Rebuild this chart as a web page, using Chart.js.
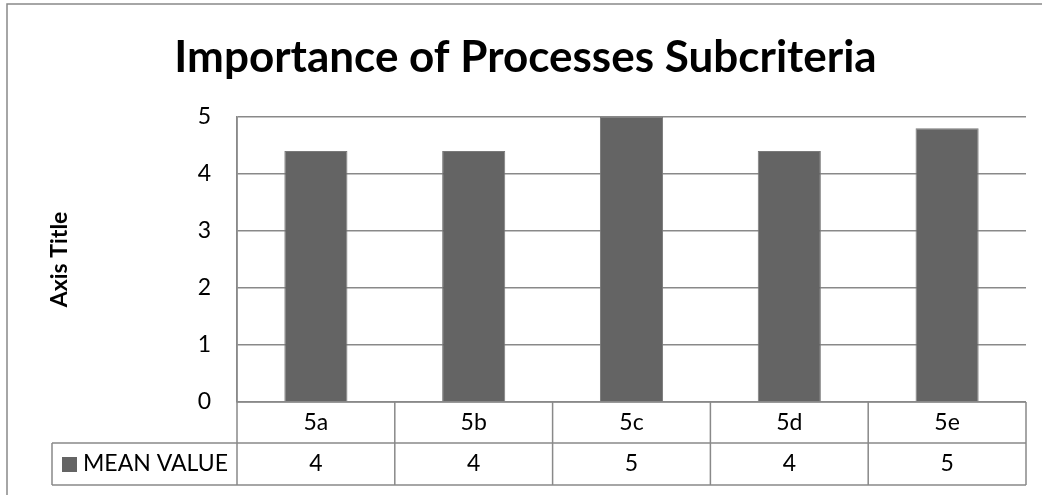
<!DOCTYPE html>
<html>
<head>
<meta charset="utf-8">
<script src="https://cdn.jsdelivr.net/npm/chart.js@4.4.1/dist/chart.umd.min.js"></script>
<style>
  html, body { margin: 0; padding: 0; background: #fff; }
</style>
</head>
<body>
<canvas id="chart" width="1042" height="495"></canvas>
<script>
// data
const categories = ['5a', '5b', '5c', '5d', '5e'];
const meanValues = [4.4, 4.4, 5, 4.4, 4.8];
const seriesName = 'MEAN VALUE';
const chartTitle = 'Importance of Processes Subcriteria';
const yAxisTitle = 'Axis Title';
const yMin = 0;
const yMax = 5;
const yStep = 1;

const BAR = '#646464';
const LINE = '#898989';
const FONT = 'Lato';
const LABEL_SIZE = 23;

// Excel-like frame + data table under the plot
const dataTable = {
  id: 'dataTable',
  beforeDraw(chart) {
    const ctx = chart.ctx;
    ctx.save();
    ctx.fillStyle = '#fff';
    ctx.fillRect(0, 0, chart.width, chart.height);
    ctx.strokeStyle = LINE;
    ctx.lineWidth = 1.5;
    ctx.strokeRect(7, 4, chart.width + 20, chart.height + 20);
    ctx.restore();
  },
  afterDraw(chart) {
    const { ctx, chartArea } = chart;
    const x = chart.scales.x;
    const step = x.width / categories.length;
    const row1 = chartArea.bottom;
    const row2 = row1 + 41;
    const row3 = row2 + 42;
    const legendLeft = 52;

    ctx.save();
    ctx.strokeStyle = LINE;
    ctx.lineWidth = 1.5;
    ctx.beginPath();
    ctx.moveTo(x.left, row1); ctx.lineTo(x.right, row1);
    ctx.moveTo(legendLeft, row2); ctx.lineTo(x.right, row2);
    ctx.moveTo(legendLeft, row3); ctx.lineTo(x.right, row3);
    ctx.moveTo(legendLeft, row2); ctx.lineTo(legendLeft, row3);
    ctx.moveTo(x.left, chartArea.top); ctx.lineTo(x.left, row3);
    for (let i = 1; i <= categories.length; i++) {
      const bx = x.left + i * step;
      ctx.moveTo(bx, row1); ctx.lineTo(bx, row3);
    }
    ctx.stroke();

    // values row
    ctx.fillStyle = '#000';
    ctx.font = LABEL_SIZE + 'px ' + FONT;
    ctx.textAlign = 'center';
    ctx.textBaseline = 'middle';
    const midY = (row2 + row3) / 2;
    meanValues.forEach((v, i) => {
      ctx.fillText(v.toFixed(0), x.getPixelForValue(i), midY);
    });

    // legend key in the first cell
    ctx.fillStyle = BAR;
    ctx.fillRect(legendLeft + 10, midY - 7, 15, 15);
    ctx.fillStyle = '#000';
    ctx.textAlign = 'left';
    ctx.fillText(seriesName, legendLeft + 31, midY);
    ctx.restore();
  }
};

new Chart(document.getElementById('chart'), {
  type: 'bar',
  data: {
    labels: categories,
    datasets: [{
      label: seriesName,
      data: meanValues,
      backgroundColor: BAR,
      borderColor: '#7a7a7a',
      borderWidth: 1,
      categoryPercentage: 1,
      barPercentage: 0.4
    }]
  },
  options: {
    responsive: false,
    animation: false,
    layout: { padding: { left: 25, right: 16, top: 4, bottom: 10 } },
    plugins: {
      legend: { display: false },
      tooltip: { enabled: false },
      title: {
        display: true,
        text: chartTitle,
        color: '#000',
        font: { family: FONT, size: 44, weight: 'bold' },
        padding: { top: 27, bottom: 33 }
      }
    },
    scales: {
      x: {
        grid: { display: false, drawTicks: false },
        border: { display: false },
        ticks: { color: '#000', font: { family: FONT, size: LABEL_SIZE }, padding: 7, maxRotation: 0 },
        afterFit(scale) { scale.height = 83; }
      },
      y: {
        min: yMin,
        max: yMax,
        grid: { color: LINE, lineWidth: 1.5, drawTicks: false },
        border: { color: LINE, width: 1.5 },
        ticks: { stepSize: yStep, color: '#000', font: { family: FONT, size: LABEL_SIZE }, padding: 26 },
        title: {
          display: true,
          text: yAxisTitle,
          color: '#000',
          font: { family: FONT, size: 23, weight: 'bold' },
          padding: { top: 21 }
        },
        afterFit(scale) { scale.width = 212; }
      }
    }
  },
  plugins: [dataTable]
});
</script>
</body>
</html>
